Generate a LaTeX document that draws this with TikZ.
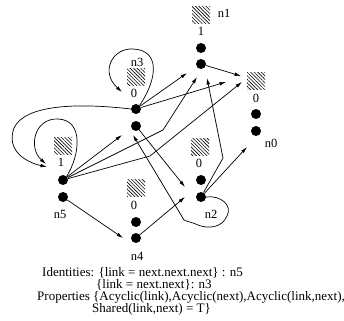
\documentclass[tikz,border=0pt]{standalone}
\usepackage{fontspec}
\setmainfont{Liberation Serif}
\usetikzlibrary{arrows.meta,patterns.meta}

\tikzset{
  dotnode/.style={circle,fill=black,inner sep=0pt,minimum size=10pt},
  hatchbox/.style={inner sep=0pt,minimum width=18pt,minimum height=17pt,
    pattern={Lines[angle=135,distance=2.5pt,line width=0.6pt]}},
  lbl/.style={inner sep=0pt,font=\fontsize{12.5}{12}\selectfont},
  edge/.style={line width=0.7pt,-{Latex[length=6.5pt,width=3.6pt]}},
  txt/.style={anchor=base west,inner sep=0pt,font=\fontsize{13}{12}\selectfont}
}

\begin{document}
\begin{tikzpicture}[x=1pt,y=-1pt]
\useasboundingbox (0,0) rectangle (344,320);

% summary node n1
\node[hatchbox] (h1) at (201,15) {};
\node[lbl] (l1) at (224,13) {n1};
\node[lbl] (v1) at (201,31) {1};
\node[dotnode] (n1a) at (201,48) {};
\node[dotnode] (n1b) at (201,64) {};
% node n0
\node[hatchbox] (h0) at (256,81) {};
\node[lbl] (v0) at (256,98) {0};
\node[dotnode] (n0a) at (256,114) {};
\node[dotnode] (n0b) at (256,131) {};
\node[lbl] (l0) at (271,143) {n0};
% node n3
\node[lbl] (l3) at (137,62) {n3};
\node[hatchbox] (h3) at (136,77) {};
\node[lbl] (v3) at (134,93) {0};
\node[dotnode] (n3a) at (136,109) {};
\node[dotnode] (n3b) at (136,126) {};
% node n5
\node[hatchbox] (h5) at (63,146) {};
\node[lbl] (v5) at (61,162) {1};
\node[dotnode] (n5a) at (63,180) {};
\node[dotnode] (n5b) at (63,197) {};
\node[lbl] (l5) at (60,214) {n5};
% node n2
\node[hatchbox] (h2) at (200,147) {};
\node[lbl] (v2) at (199,163) {0};
\node[dotnode] (n2a) at (201,180) {};
\node[dotnode] (n2b) at (201,197) {};
\node[lbl] (l2) at (211,214) {n2};
% node n4
\node[hatchbox] (h4) at (136,188) {};
\node[lbl] (v4) at (134,205) {0};
\node[dotnode] (n4a) at (136,222) {};
\node[dotnode] (n4b) at (136,238) {};
\node[lbl] (l4) at (137,256) {n4};

% arrow tips and bends
\coordinate (t1) at (241,76);
\coordinate (t2) at (187,73);
\coordinate (t3) at (226,82);
\coordinate (t4) at (197,77);
\coordinate (t5) at (242,82);
\coordinate (t6) at (207,78);
\coordinate (t7) at (247,147);
\coordinate (t8) at (185,187);
\coordinate (t9) at (185,197);
\coordinate (t10) at (123,238);
\coordinate (t11) at (122,135);
\coordinate (t12) at (133,135);
\coordinate (t13) at (122,92);
\coordinate (t14) at (47,167);
\coordinate (t15) at (46,164);
\coordinate (b1) at (163,130);
\coordinate (b2) at (150,156);
\coordinate (b3) at (223,158);

% straight edges
\draw[edge] (n1b) -- (t1);
\draw[edge] (n3a) -- (t2);
\draw[edge] (n3a) -- (t3);
\draw[edge] (n5a) -- (b1) -- (t4);
\draw[edge] (n5a) -- (b2) -- (t5);
\draw[edge] (n2b) -- (b3) -- (t6);
\draw[edge] (n2b) -- (t7);
\draw[edge] (n3b) -- (t8);
\draw[edge] (n4b) -- (t9);
\draw[edge] (n5b) -- (t10);
\draw[edge] (n5a) -- (t11);

% curved edges
\draw[edge] (n3a.north east) .. controls (158,78) and (160,50) .. (133,49)
  .. controls (112,48) and (100,72) .. (t13);
\draw[edge] (n3a.west) .. controls (80,103) and (25,104) .. (14,128)
  .. controls (6,150) and (25,162) .. (t14);
\draw[edge] (n5a.north east) .. controls (80,155) and (84,120) .. (58,119)
  .. controls (34,118) and (28,148) .. (t15);
\draw[edge] (n2b.east) .. controls (220,195) and (233,205) .. (227,216)
  .. controls (222,228) and (208,229) .. (198,225)
  .. controls (192,222) and (188,222) .. (184,220) -- (t12);

% shape properties
\node[txt] (id1) at (42,276) {Identities: \{link = next.next.next\} : n5};
\node[txt] (id2) at (96,288) {\{link = next.next\}: n3};
\node[txt] (pr1) at (37,300) {Properties \{Acyclic(link),Acyclic(next),Acyclic(link,next),};
\node[txt] (pr2) at (92,312) {Shared(link,next) = T\}};
\end{tikzpicture}
\end{document}
